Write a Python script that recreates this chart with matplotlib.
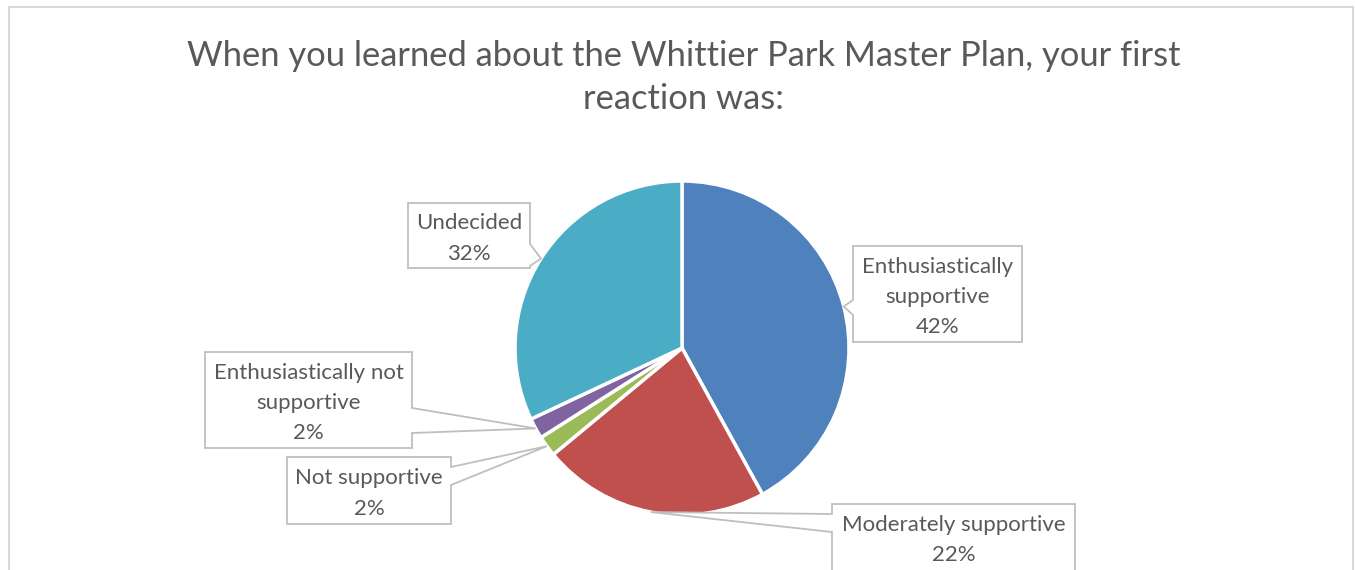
import matplotlib
matplotlib.use("Agg")
import matplotlib.pyplot as plt
from matplotlib.patches import Polygon, Rectangle
import numpy as np

plt.rcParams["font.family"] = ["Lato", "DejaVu Sans"]

title = "When you learned about the Whittier Park Master Plan, your first\nreaction was:"
categories = ["Enthusiastically\nsupportive", "Moderately supportive", "Not supportive",
              "Enthusiastically not\nsupportive", "Undecided"]
values = [42, 22, 2, 2, 32]
colors = ["#4F81BD", "#C0504D", "#9BBB59", "#8064A2", "#4BACC6"]

# layout in pixels (y down)
W, H = 1355, 570
CX, CY, R = 682, 348, 167
# box: (x0, y0, x1, y1), side of pointer, pointer base along that side
boxes = [
    ((853, 246, 1022, 342), "left", (300, 315)),
    ((832, 504, 1075, 600), "left", (514, 532)),
    ((287, 457, 451, 524), "right", (467, 485)),
    ((205, 352, 412, 448), "right", (408, 433)),
    ((408, 203, 530, 268), "right", (244, 266)),
]

def to_data(px, py):
    return ((px - CX) / R, (CY - py) / R)


def main():
    fig = plt.figure(figsize=(W / 100, H / 100), dpi=100)
    ax = fig.add_axes([0, 0, 1, 1])
    ax.pie(values, colors=colors, startangle=90, counterclock=False, radius=1,
           wedgeprops=dict(edgecolor="white", linewidth=2.5))
    ax.set_aspect("auto")
    ax.set_xlim(-CX / R, (W - CX) / R)
    ax.set_ylim((CY - H) / R, CY / R)
    ax.axis("off")

    # chart border
    fig.patches.append(Rectangle((9 / W, -0.05), (1353 - 9) / W, 1.05 - 7 / H,
                                 transform=fig.transFigure, fill=False,
                                 edgecolor="#D9D9D9", linewidth=1.5))

    fig.text(683.5 / W, 1 - 77.5 / H, title, ha="center", va="center",
             fontsize=24.8, color="#595959", linespacing=1.45)

    total = float(sum(values))
    cum = np.cumsum([0] + values)
    for i, (lab, v) in enumerate(zip(categories, values)):
        mid = (cum[i] + cum[i + 1]) / 2 / total
        ang = np.deg2rad(90 - 360 * mid)
        tip = (np.cos(ang), np.sin(ang))
        (x0, y0, x1, y1), side, (a, b) = boxes[i]
        if side == "left":
            pts = [(x0, y0), (x1, y0), (x1, y1), (x0, y1), (x0, b), None, (x0, a)]
        else:
            pts = [(x0, y0), (x1, y0), (x1, a), None, (x1, b), (x1, y1), (x0, y1)]
        verts = [tip if p is None else to_data(*p) for p in pts]
        ax.add_patch(Polygon(verts, closed=True, facecolor="white",
                             edgecolor="#BFBFBF", linewidth=1.3, zorder=3))
        txt = "%s\n%d%%" % (lab, v)
        cx = (x0 + x1) / 2
        cy = (y0 + min(y1, 600)) / 2 + 3
        if i == 1:
            cy = 540
        tx, ty = to_data(cx, cy)
        ax.text(tx, ty, txt, ha="center", va="center", fontsize=16,
                color="#595959", linespacing=1.65, zorder=4)

    fig.savefig("out.png", dpi=100)


if __name__ == "__main__":
    main()
